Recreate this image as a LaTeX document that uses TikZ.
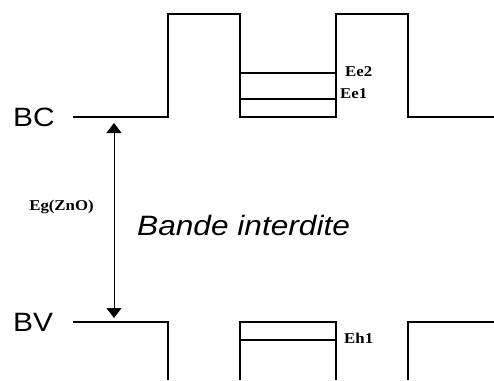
\documentclass[tikz,border=0pt]{standalone}
\usepackage{fontspec}
\setmainfont{Liberation Serif}[FakeStretch=1.12]
\setsansfont{Liberation Sans}[FakeStretch=1.13]
\usetikzlibrary{arrows.meta,positioning}

\tikzset{
    bande/.style={line width=2.6pt, line join=miter},
    niveau/.style={line width=1.6pt},
    bandlabel/.style={anchor=west, inner sep=0pt, font=\sffamily\fontsize{26.5}{30}\selectfont},
    levellabel/.style={anchor=west, inner sep=0pt, font=\bfseries\fontsize{15}{17}\selectfont}
}

\begin{document}
\begin{tikzpicture}[x=1pt, y=-1pt]
    \useasboundingbox (0,0) rectangle (494,380);

    % 导带 (BC)
    \draw[bande] (73,117) -- (168,117) -- (168,14) -- (240,14) -- (240,117)
        -- (336,117) -- (336,14) -- (408,14) -- (408,117) -- (494,117);
    % 价带 (BV)
    \draw[bande] (73,322) -- (168,322) -- (168,380);
    \draw[bande] (240,380) -- (240,322) -- (336,322) -- (336,380);
    \draw[bande] (408,380) -- (408,322) -- (494,322);

    % 量子阱能级
    \foreach \y/\name/\lx/\ly in {73/Ee2/345/72, 99/Ee1/340/94, 340/Eh1/344/338} {
        \draw[niveau] (240,\y) -- (336,\y);
        \node[levellabel] (\name) at (\lx,\ly) {\name};
    }

    \node[bandlabel] (BC) at (13,117) {BC};
    \node[bandlabel] (BV) at (13,322) {BV};

    % 禁带宽度
    \coordinate (Ehaut) at (114,123);
    \coordinate (Ebas) at (114,318);
    \draw[line width=0.8pt, {Triangle[length=10pt,width=15pt]}-{Triangle[length=10pt,width=15pt]}] (Ehaut) -- (Ebas);
    \node[font=\bfseries\fontsize{15}{17}\selectfont] (Eg) at (61.5,207) {Eg(ZnO)};
    \node[anchor=west, inner sep=0pt, font=\sffamily\itshape\fontsize{28}{31}\selectfont] (gap) at (137,225) {Bande interdite};
\end{tikzpicture}
\end{document}
